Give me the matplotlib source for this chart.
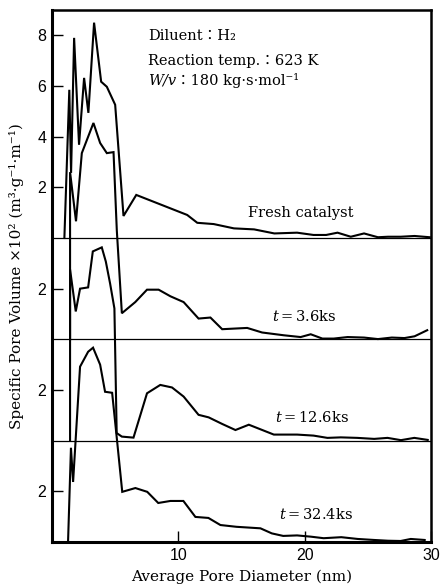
import matplotlib
matplotlib.use("Agg")
import matplotlib.pyplot as plt

# ---------------- data (values relative to each curve's own baseline) ----------------
fresh_x = [0.98, 1.37, 1.51, 1.75, 2.14, 2.54, 2.88, 3.33, 3.89, 4.34, 5.0, 5.66, 6.67,
           10.7, 11.5, 12.8, 14.4, 16.0, 17.6, 19.4, 20.7, 21.7, 22.6, 23.65, 24.7,
           25.8, 26.6, 27.6, 28.7, 29.9]
fresh_y = [0.0, 5.85, 2.57, 7.9, 3.68, 6.32, 4.94, 8.5, 6.17, 5.97, 5.26, 0.87, 1.7,
           0.91, 0.6, 0.55, 0.38, 0.34, 0.18, 0.21, 0.12, 0.12, 0.21, 0.05, 0.18,
           0.03, 0.05, 0.05, 0.08, 0.03]

t36_x = [1.43, 1.43, 1.9, 2.36, 3.28, 3.81, 4.34, 4.87, 5.13, 5.53, 6.59, 7.52, 8.44,
         9.37, 10.42, 11.6, 12.54, 13.47, 15.45, 16.63, 18.35, 19.68, 20.48, 21.4,
         22.3, 23.4, 24.7, 25.8, 26.9, 27.9, 28.7, 29.7]
t36_y = [0.0, 6.6, 4.66, 7.35, 8.54, 7.75, 7.35, 7.39, 4.3, 1.03, 1.47, 1.96, 1.96,
         1.70, 1.47, 0.82, 0.86, 0.4, 0.45, 0.27, 0.16, 0.09, 0.2, 0.03,
         0.03, 0.09, 0.07, 0.01, 0.07, 0.05, 0.12, 0.36]

t126_x = [1.43, 1.43, 1.88, 2.22, 2.86, 3.23, 3.94, 4.26, 4.6, 4.94, 5.12, 5.53, 6.45,
          7.52, 8.57, 9.5, 10.42, 11.6, 12.4, 13.47, 14.52, 15.58, 17.56, 19.4, 20.7,
          21.8, 22.86, 24.17, 25.5, 26.56, 27.62, 28.68, 29.74]
t126_y = [0.0, 6.76, 5.1, 6.0, 6.05, 7.47, 7.63, 7.07, 6.2, 5.22, 0.3, 0.16, 0.12,
          1.87, 2.2, 2.1, 1.74, 1.02, 0.92, 0.66, 0.42, 0.63, 0.24, 0.24, 0.2,
          0.11, 0.13, 0.11, 0.07, 0.11, 0.02, 0.11, 0.03]

t324_x = [1.27, 1.5, 1.67, 2.22, 2.86, 3.25, 3.81, 4.2, 4.76, 5.16, 5.56, 6.6, 7.54,
          8.41, 9.37, 10.4, 11.35, 12.38, 13.33, 14.6, 16.5, 17.4, 18.3, 19.4, 20.5,
          21.5, 22.9, 24.2, 25.5, 26.6, 27.6, 28.4, 29.5]
t324_y = [0.0, 3.72, 2.37, 6.92, 7.51, 7.67, 7.0, 5.93, 5.89, 3.95, 1.98, 2.13, 1.98,
          1.54, 1.62, 1.62, 0.99, 0.95, 0.67, 0.6, 0.54, 0.34, 0.24, 0.26, 0.21,
          0.15, 0.19, 0.12, 0.08, 0.05, 0.04, 0.12, 0.08]

offsets = [12, 8, 4, 0]          # baseline of each stacked curve
labels = ["Fresh catalyst", r"$t=$3.6ks", r"$t=$12.6ks", r"$t=$32.4ks"]
ytick_pos = [2, 6, 10, 14, 16, 18, 20]
ytick_lab = ["2", "2", "2", "2", "4", "6", "8"]
xtick_pos = [10, 20, 30]
xtick_lab = ["10", "20", "30"]

# ---------------- figure ----------------
plt.rcParams['mathtext.fontset'] = 'dejavuserif'
serif = ['DejaVu Serif', 'Noto Sans CJK JP']

fig = plt.figure(figsize=(4.41, 5.87), dpi=100)
ax = fig.add_axes([52 / 441, 1 - 542 / 587, 379 / 441, 532 / 587])
ax.set_xlim(0, 30)
ax.set_ylim(0, 21)

series = [(fresh_x, fresh_y), (t36_x, t36_y), (t126_x, t126_y), (t324_x, t324_y)]
for (xs, ys), off in zip(series, offsets):
    ax.plot(xs, [v + off for v in ys], color='black', lw=1.5, solid_joinstyle='miter')

for off in offsets[:-1]:
    ax.axhline(off, color='black', lw=0.9)

for s in ['left', 'bottom']:
    ax.spines[s].set_linewidth(2.2)
for s in ['top', 'right']:
    ax.spines[s].set_linewidth(1.8)

ax.set_yticks(ytick_pos)
ax.set_yticklabels(ytick_lab)
ax.set_xticks(xtick_pos)
ax.set_xticklabels(xtick_lab)
ax.tick_params(axis='both', direction='in', length=8, width=1.0, labelsize=11.5, pad=4)
for lab in ax.get_xticklabels() + ax.get_yticklabels():
    lab.set_family('Liberation Sans')

ax.set_xlabel("Average Pore Diameter (nm)", family=serif, fontsize=11, labelpad=5)
ax.set_ylabel("Specific Pore Volume ×10² (m³·g⁻¹·m⁻¹)", family=serif, fontsize=11)
ax.yaxis.set_label_coords(-0.075, 0.5)

# curve labels
label_pos = [(19.7, 13.0), (19.95, 8.9), (20.55, 4.9), (20.9, 1.07)]
for txt, (lx, ly) in zip(labels, label_pos):
    ax.text(lx, ly, txt, ha='center', va='center', fontsize=10.5, family=serif)

# conditions block
ax.text(7.6, 19.96, "Diluent：H₂", ha='left', va='center', fontsize=10.5, family=serif)
ax.text(7.6, 18.97, "Reaction temp.：623 K", ha='left', va='center', fontsize=10.5, family=serif)
wv = ax.text(7.6, 18.2, "W/v", ha='left', va='center', fontsize=10.5, family=serif,
             style='italic')
ax.annotate("：180 kg·s·mol⁻¹", xy=(1, 0.5), xycoords=wv, ha='left', va='center',
            fontsize=10.5, family=serif)

fig.savefig("out.png", dpi=100)
